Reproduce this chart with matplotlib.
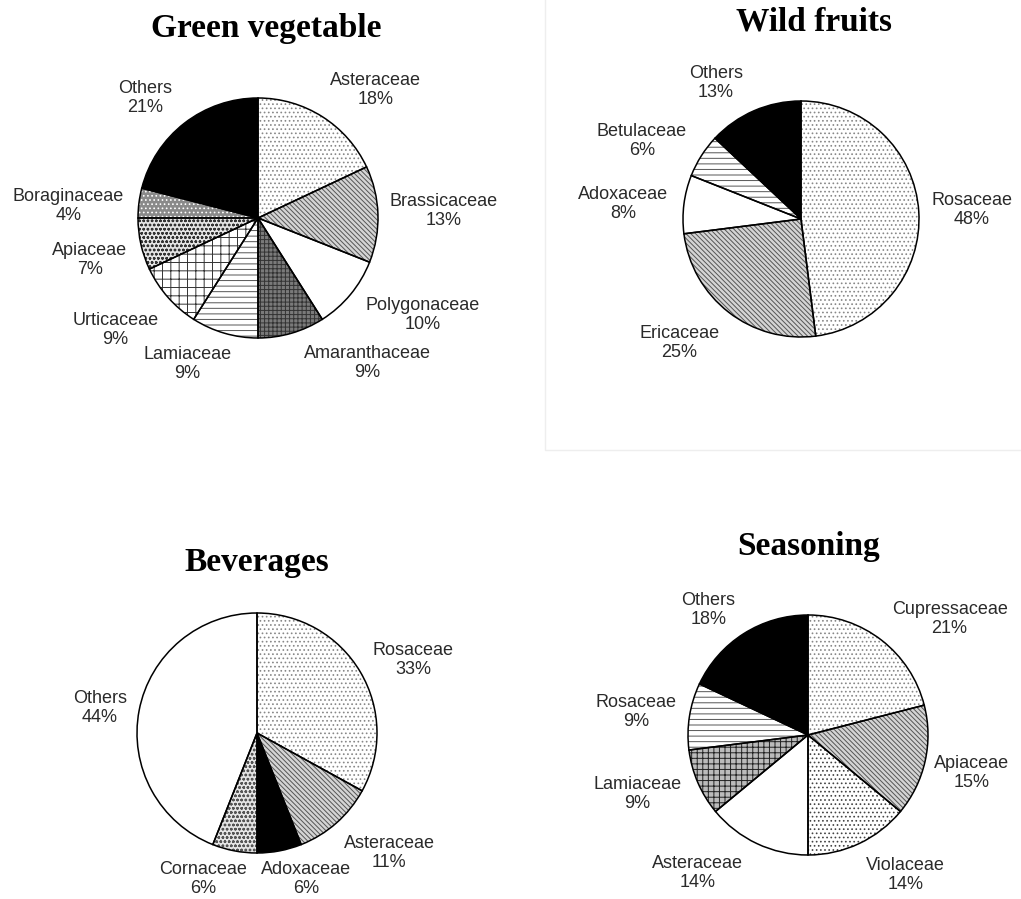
import matplotlib.pyplot as plt

plt.rcParams['hatch.linewidth'] = 0.7

# data
veg_names = ['Asteraceae', 'Brassicaceae', 'Polygonaceae', 'Amaranthaceae', 'Lamiaceae',
             'Urticaceae', 'Apiaceae', 'Boraginaceae', 'Others']
veg_vals = [18, 13, 10, 9, 9, 9, 7, 4, 21]

fruit_names = ['Rosaceae', 'Ericaceae', 'Adoxaceae', 'Betulaceae', 'Others']
fruit_vals = [48, 25, 8, 6, 13]

bev_names = ['Rosaceae', 'Asteraceae', 'Adoxaceae', 'Cornaceae', 'Others']
bev_vals = [33, 11, 6, 6, 44]

seas_names = ['Cupressaceae', 'Apiaceae', 'Violaceae', 'Asteraceae', 'Lamiaceae', 'Rosaceae', 'Others']
seas_vals = [21, 15, 14, 14, 9, 9, 18]

# fill styles: facecolor, hatch, hatch colour
DOT = ('white', '....', '#888888')
DIAG = ('#d4d4d4', '\\\\\\\\\\\\\\', '#555555')
PLAIN = ('white', '', 'white')
BLACK = ('black', '', 'black')
DASH = ('white', '---', '#555555')
veg_styles = [DOT, DIAG, PLAIN, ('#7a7a7a', '++++', '#333333'), DASH,
              ('white', '++', '#333333'), ('#e5e5e5', 'oooo', '#333333'),
              ('#8a8a8a', '....', 'white'), BLACK]
fruit_styles = [DOT, DIAG, PLAIN, DASH, BLACK]
bev_styles = [DOT, DIAG, BLACK, ('#e5e5e5', 'oooo', '#555555'), PLAIN]
seas_styles = [DOT, DIAG, ('white', '....', '#444444'), PLAIN,
               ('#bbbbbb', '+++', '#222222'), DASH, BLACK]

# label centres, in pie radii from the pie centre
veg_lab = [(0.98, 1.07), (1.55, 0.06), (1.37, -0.81), (0.91, -1.21), (-0.59, -1.22),
           (-1.19, -0.93), (-1.40, -0.35), (-1.58, 0.10), (-0.94, 1.00)]
fruit_lab = [(1.45, 0.08), (-1.03, -1.05), (-1.51, 0.13), (-1.35, 0.66), (-0.72, 1.15)]
bev_lab = [(1.30, 0.61), (1.10, -1.00), (0.41, -1.22), (-0.45, -1.22), (-1.31, 0.21)]
seas_lab = [(1.18, 0.97), (1.36, -0.32), (0.81, -1.17), (-0.92, -1.15), (-1.42, -0.49),
            (-1.43, 0.19), (-0.83, 1.04)]

W, H = 1021, 899
fig = plt.figure(figsize=(W / 100, H / 100), dpi=100)
ax = fig.add_axes([0, 0, 1, 1])


def draw_pie(names, vals, styles, labpos, title, cx, cy, tx, ty, r=120):
    c = (cx, H - cy)
    # fill + hatch layer
    wedges, _ = ax.pie(vals, center=c, radius=r, startangle=90, counterclock=False,
                       wedgeprops=dict(linewidth=0))
    for w, (fc, h, hc) in zip(wedges, styles):
        w.set_facecolor(fc)
        w.set_edgecolor(hc)
        w.set_linewidth(0)
        w.set_hatch(h)
    # outlines
    ax.pie(vals, center=c, radius=r, startangle=90, counterclock=False,
           wedgeprops=dict(facecolor='none', edgecolor='black', linewidth=1.1))
    for n, v, (dx, dy) in zip(names, vals, labpos):
        ax.text(c[0] + dx * r, c[1] + dy * r, '%s\n%d%%' % (n, v), ha='center', va='center',
                fontsize=13, family='Liberation Sans', color='#2a2a2a', linespacing=1.15)
    ax.text(tx, H - ty, title, ha='center', va='center', fontsize=24,
            fontweight='bold', family='Liberation Serif')


draw_pie(veg_names, veg_vals, veg_styles, veg_lab, 'Green vegetable', 258, 218, 266, 28)
draw_pie(fruit_names, fruit_vals, fruit_styles, fruit_lab, 'Wild fruits', 801, 219, 814, 22, r=118)
draw_pie(bev_names, bev_vals, bev_styles, bev_lab, 'Beverages', 257, 733, 257, 563)
draw_pie(seas_names, seas_vals, seas_styles, seas_lab, 'Seasoning', 808, 735, 809, 547)

# faint panel border around the wild fruits chart
ax.plot([545, 545, W], [H, H - 450, H - 450], color='#eeeeee', linewidth=1)

ax.set_xlim(0, W)
ax.set_ylim(0, H)
ax.set_aspect('equal')
ax.axis('off')
fig.savefig('out.png', dpi=100)
